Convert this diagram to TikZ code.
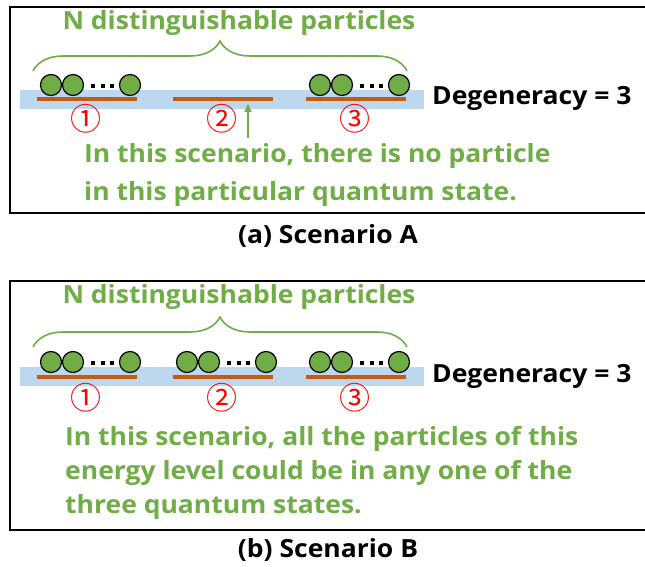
\documentclass[tikz,border=0pt]{standalone}
\usepackage{fontspec}
\setmainfont{Open Sans}[FakeStretch=1.06]
\newfontfamily\circfont{Noto Sans CJK SC}
\usepackage{tikz}
\usetikzlibrary{shapes.geometric,arrows.meta,positioning,decorations.pathreplacing}
\definecolor{lvgreen}{HTML}{70AD47}
\definecolor{lvorange}{HTML}{C55A11}
\definecolor{bandblue}{HTML}{BDD7EE}

\begin{document}
\begin{tikzpicture}[
    x=1pt, y=-1pt,
    frame/.style={draw, line width=1.5pt},
    band/.style={fill=bandblue, draw=none},
    level/.style={draw=lvorange, line width=4pt},
    particle/.style={ellipse, draw, fill=lvgreen, line width=1.2pt,
                     minimum width=21pt, minimum height=21pt, inner sep=0pt},
    dot/.style={fill, minimum size=4.5pt, inner sep=0pt},
    txt/.style={font=\bfseries\fontsize{25}{28}\selectfont, inner sep=0pt},
    title/.style={txt, text=lvgreen},
    note/.style={txt, text=lvgreen, align=left, anchor=north west},
    num/.style={font=\circfont\fontsize{31}{31}\selectfont, inner sep=0pt, text=red},
    brace/.style={decorate, decoration={brace, amplitude=30pt},
                  draw=lvgreen, line width=1.6pt},
    arrow/.style={-{Triangle[length=8pt,width=7pt]}, draw=lvgreen, line width=1.6pt}
]
\useasboundingbox (0,0) rectangle (645,567);

% scenario A
\draw[frame] (10,7) rectangle (655,213);
\node[title] (titleA) at (239,23) {N distinguishable particles};
\draw[brace] (33,71) -- (407,71);
\fill[band] (20,90) rectangle (424,109);
\foreach \i/\x/\n in {1/37/①, 2/173/②, 3/306/③} {
    \draw[level] (\x,99.5) -- +(100,0);
    \node[num] (numA\i) at (\x+49,119) {\n};
}
\foreach \g/\x in {1/37, 3/306} {
    \node[particle] (pA\g-1) at (\x+14,85) {};
    \node[particle] (pA\g-2) at (\x+36,85) {};
    \node[particle] (pA\g-3) at (\x+93,85) {};
    \foreach \d in {56,66,75}
        \node[dot] at (\x+\d,86) {};
}
\node[txt, anchor=west] (degA) at (432,98) {Degeneracy = 3};
\coordinate (tipA) at (248,104);
\node[note, font=\bfseries\fontsize{25}{38}\selectfont] (noteA) at (84,143)
    {In this scenario, there is no particle\\in this particular quantum state.};
\draw[arrow] ([yshift=5pt]noteA.north -| tipA) -- (tipA);
\node[txt] (capA) at (328,236) {(a) Scenario A};

% scenario B
\draw[frame] (10,281) rectangle (655,530);
\node[title] (titleB) at (239,297) {N distinguishable particles};
\draw[brace] (33,347) -- (407,347);
\fill[band] (20,367) rectangle (424,386);
\foreach \i/\x/\n in {1/37/①, 2/173/②, 3/306/③} {
    \draw[level] (\x,377) -- +(100,0);
    \node[num] (numB\i) at (\x+49,398) {\n};
    \node[particle] (pB\i-1) at (\x+14,362) {};
    \node[particle] (pB\i-2) at (\x+36,362) {};
    \node[particle] (pB\i-3) at (\x+93,362) {};
    \foreach \d in {56,66,75}
        \node[dot] at (\x+\d,363) {};
}
\node[txt, anchor=west] (degB) at (432,376) {Degeneracy = 3};
\node[note, font=\bfseries\fontsize{25}{34}\selectfont] (noteB) at (65,426)
    {In this scenario, all the particles of this\\energy level could be in any one of the\\three quantum states.};
\node[txt] (capB) at (328,550) {(b) Scenario B};
\end{tikzpicture}
\end{document}
